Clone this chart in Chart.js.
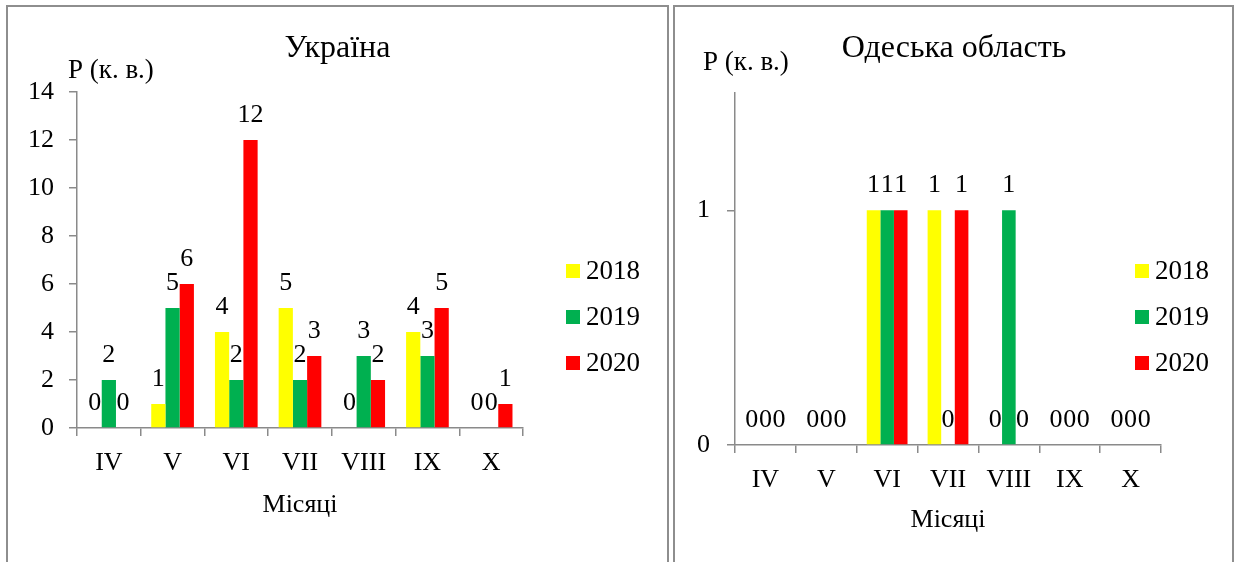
<!DOCTYPE html>
<html>
<head>
<meta charset="utf-8">
<script src="https://cdn.jsdelivr.net/npm/chart.js@4/dist/chart.umd.min.js"></script>
<style>
  html, body { margin: 0; padding: 0; background: #fff; }
  body { width: 1235px; height: 562px; position: relative; overflow: hidden; }
  .panel { position: absolute; top: 5px; height: 557px; border: 2px solid #8e8e8e; border-bottom: none; box-sizing: border-box; }
  #panelA { left: 6px; width: 663px; }
  #panelB { left: 673px; width: 561px; }
  canvas { position: absolute; }
  #chartA { left: 8px; top: 7px; }
  #chartB { left: 676px; top: 7px; }
</style>
</head>
<body>
<div class="panel" id="panelA"></div>
<div class="panel" id="panelB"></div>
<canvas id="chartA" width="659" height="555"></canvas>
<canvas id="chartB" width="556" height="555"></canvas>
<script>
// Months (Roman numerals) and yearly series
const months = ['IV', 'V', 'VI', 'VII', 'VIII', 'IX', 'X'];
const years = ['2018', '2019', '2020'];
const yearColors = ['#FFFF00', '#00B050', '#FF0000'];

// Україна
const ukraine2018 = [0, 1, 4, 5, 0, 4, 0];
const ukraine2019 = [2, 5, 2, 2, 3, 3, 0];
const ukraine2020 = [0, 6, 12, 3, 2, 5, 1];
const ukraineTicks = { min: 0, max: 14, step: 2 };

// Одеська область
const odesa2018 = [0, 0, 1, 1, 0, 0, 0];
const odesa2019 = [0, 0, 1, 0, 1, 0, 0];
const odesa2020 = [0, 0, 1, 1, 0, 0, 0];
const odesaTicks = { min: 0, max: 1.5, step: 1 };

const FONT = "'Liberation Serif', 'Times New Roman', serif";
const AXIS = '#8a8a8a';
Chart.defaults.font.family = FONT;
Chart.defaults.color = '#000';

// Value printed above the end of every bar
const valueLabels = {
  id: 'valueLabels',
  afterDatasetsDraw(chart, args, opts) {
    const ctx = chart.ctx;
    ctx.save();
    ctx.font = opts.size + 'px ' + FONT;
    ctx.fillStyle = '#000';
    ctx.textAlign = 'center';
    ctx.textBaseline = 'alphabetic';
    chart.data.datasets.forEach((ds, i) => {
      chart.getDatasetMeta(i).data.forEach((bar, j) => {
        ctx.fillText(String(ds.data[j]), bar.x, bar.y - opts.gap);
      });
    });
    ctx.restore();
  }
};

// Year key with coloured squares, plus the vertical axis caption
const sideKey = {
  id: 'sideKey',
  afterDraw(chart, args, opts) {
    const ctx = chart.ctx;
    ctx.save();
    ctx.fillStyle = '#000';
    ctx.textAlign = 'left';
    ctx.textBaseline = 'alphabetic';
    ctx.font = opts.unitSize + 'px ' + FONT;
    ctx.fillText(opts.unit, opts.unitX, opts.unitY);

    ctx.font = opts.size + 'px ' + FONT;
    ctx.textBaseline = 'middle';
    chart.data.datasets.forEach((ds, i) => {
      const cy = opts.y + i * opts.step;
      ctx.fillStyle = ds.backgroundColor;
      ctx.fillRect(opts.x, cy - opts.box / 2, opts.box, opts.box);
      ctx.fillStyle = '#000';
      ctx.fillText(ds.label, opts.x + opts.box + opts.gap, cy + 1);
    });
    ctx.restore();
  }
};

function makeChart(id, title, series, ticks, geo) {
  const datasets = series.map((data, i) => ({
    label: years[i],
    data: data,
    backgroundColor: yearColors[i],
    borderWidth: 0,
    barPercentage: 1,
    categoryPercentage: 0.67
  }));
  return new Chart(document.getElementById(id), {
    type: 'bar',
    data: { labels: months, datasets: datasets },
    plugins: [valueLabels, sideKey],
    options: {
      responsive: false,
      animation: false,
      layout: { padding: 0 },
      plugins: {
        legend: { display: false },
        tooltip: { enabled: false },
        title: {
          display: true,
          text: title,
          font: { size: 32, weight: 'normal', lineHeight: 1.2 },
          color: '#000',
          padding: { top: geo.titleTop, bottom: geo.titleBottom }
        },
        valueLabels: { size: 26, gap: 18 },
        sideKey: {
          x: geo.keyX, y: 264, step: 46, box: 14, gap: 6, size: 27,
          unit: 'P (к. в.)', unitSize: 27, unitX: geo.unitX, unitY: geo.unitY
        }
      },
      scales: {
        x: {
          grid: { display: true, drawOnChartArea: false, drawTicks: true, tickLength: 8, offset: true, color: AXIS, lineWidth: 1.5 },
          border: { display: true, color: AXIS, width: 1.5 },
          ticks: { font: { size: 26 }, color: '#000', padding: 12, maxRotation: 0, autoSkip: false },
          title: { display: true, text: 'Місяці', font: { size: 26 }, color: '#000', padding: { top: 0, bottom: geo.xTitleBottom } },
          afterFit(s) { s.height = geo.xHeight; }
        },
        y: {
          min: ticks.min,
          max: ticks.max,
          grid: { display: true, drawOnChartArea: false, drawTicks: true, tickLength: 8, color: AXIS, lineWidth: 1.5 },
          border: { display: true, color: AXIS, width: 1.5 },
          ticks: { stepSize: ticks.step, includeBounds: false, font: { size: 26 }, color: '#000', padding: geo.yPad },
          afterFit(s) { s.width = geo.yWidth; }
        },
        keySpace: {
          type: 'linear',
          position: 'right',
          display: true,
          grid: { display: false },
          border: { display: false },
          ticks: { display: false },
          afterFit(s) { s.width = geo.rightSpace; }
        }
      }
    }
  });
}

makeChart('chartA', 'Україна', [ukraine2018, ukraine2019, ukraine2020], ukraineTicks, {
  titleTop: 22, titleBottom: 24.6,
  yWidth: 69, rightSpace: 144, yPad: 15,
  xHeight: 134, xTitleBottom: 41,
  keyX: 558, unitX: 60, unitY: 71
});

makeChart('chartB', 'Одеська область', [odesa2018, odesa2019, odesa2020], odesaTicks, {
  titleTop: 22, titleBottom: 25.6,
  yWidth: 59, rightSpace: 71, yPad: 17,
  xHeight: 117, xTitleBottom: 26,
  keyX: 459, unitX: 27, unitY: 63
});
</script>
</body>
</html>
